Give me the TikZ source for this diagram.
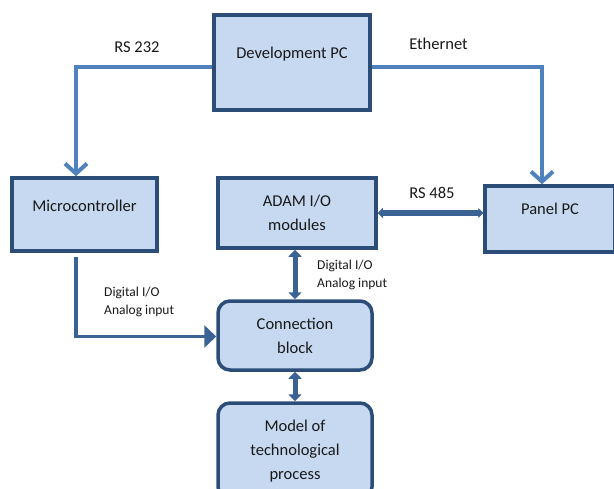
\documentclass[tikz,border=0pt]{standalone}
\usepackage{fontspec}
\setmainfont{Carlito}
\usetikzlibrary{arrows.meta}
\definecolor{boxfill}{HTML}{C6D9F0}
\definecolor{boxline}{HTML}{2C4D78}
\definecolor{toplink}{HTML}{4F81BD}
\definecolor{lowlink}{HTML}{3B6294}
\begin{document}
\begin{tikzpicture}[x=1pt,y=-1pt,
  blk/.style={draw=boxline, fill=boxfill, line width=3.5pt, inner sep=0pt,
    font=\fontsize{16.5}{24}\selectfont, align=center, text=black!90},
  rblk/.style={blk, rounded corners=12pt},
  boxtext/.style={font=\fontsize{16.5}{24}\selectfont, text=black!90, inner sep=0pt},
  lbl/.style={font=\fontsize{16.5}{20}\selectfont, text=black!90, inner sep=0pt},
  slbl/.style={font=\fontsize{13.5}{17.5}\selectfont, text=black!90, inner sep=0pt, align=left, anchor=west},
  toparrow/.style={draw=toplink, line width=4pt,
    -{Straight Barb[length=10pt,width=22pt,line width=4pt]}},
  feedarrow/.style={draw=lowlink, line width=3.5pt,
    -{Triangle[length=12pt,width=22pt]}},
  busarrow/.style={draw=lowlink, line width=5pt,
    {Triangle[length=7pt,width=13pt]}-{Triangle[length=7pt,width=13pt]}},
  rsarrow/.style={draw=lowlink, line width=6pt,
    {Triangle[length=5pt,width=10pt]}-{Triangle[length=5pt,width=10pt]}}
]
\useasboundingbox[fill=white] (0,0) rectangle (614,488);

% boxes
\node[blk, minimum width=156pt, minimum height=95pt] (dev) at (292,62.5) {};
\node[boxtext] (devt) at (292,54) {Development PC};
\node[blk, minimum width=145pt, minimum height=73pt] (micro) at (84.5,214.5) {};
\node[boxtext] (microt) at (84.5,206) {Microcontroller};
\node[blk, minimum width=130pt, minimum height=66pt] (panel) at (550,219) {};
\node[boxtext] (panelt) at (550,209) {Panel PC};
\node[blk, minimum width=158pt, minimum height=70pt] (adam) at (297,213) {ADAM I/O\\modules};
\node[rblk, minimum width=154pt, minimum height=69pt] (conn) at (295,335.5) {Connection\\block};
\node[rblk, minimum width=154pt, minimum height=96pt] (model) at (295,451) {Model of\\technological\\process};

% connectors
\draw[toparrow] ([yshift=-4pt]dev.west) -| ([xshift=-8.5pt]micro.north);
\draw[toparrow] ([yshift=-4pt]dev.east) -| ([xshift=-8pt]panel.north);
\draw[feedarrow] ([xshift=-8.5pt,yshift=-4pt]micro.south) |- ([yshift=-1pt]conn.west);
\draw[rsarrow] (adam.east) -- (adam.east -| panel.west);
\draw[busarrow] (conn.north) -- (conn.north |- adam.south);
\draw[busarrow] (conn.south) -- (model.north);

% labels
\node[lbl] (rs232) at (137,46.7) {RS 232};
\node[lbl] (eth) at (438.5,44) {Ethernet};
\node[lbl] (rs485) at (432,193) {RS 485};
\node[slbl] (dio1) at (104,302) {Digital I/O\\Analog input};
\node[slbl] (dio2) at (317,275) {Digital I/O\\Analog input};
\end{tikzpicture}
\end{document}
